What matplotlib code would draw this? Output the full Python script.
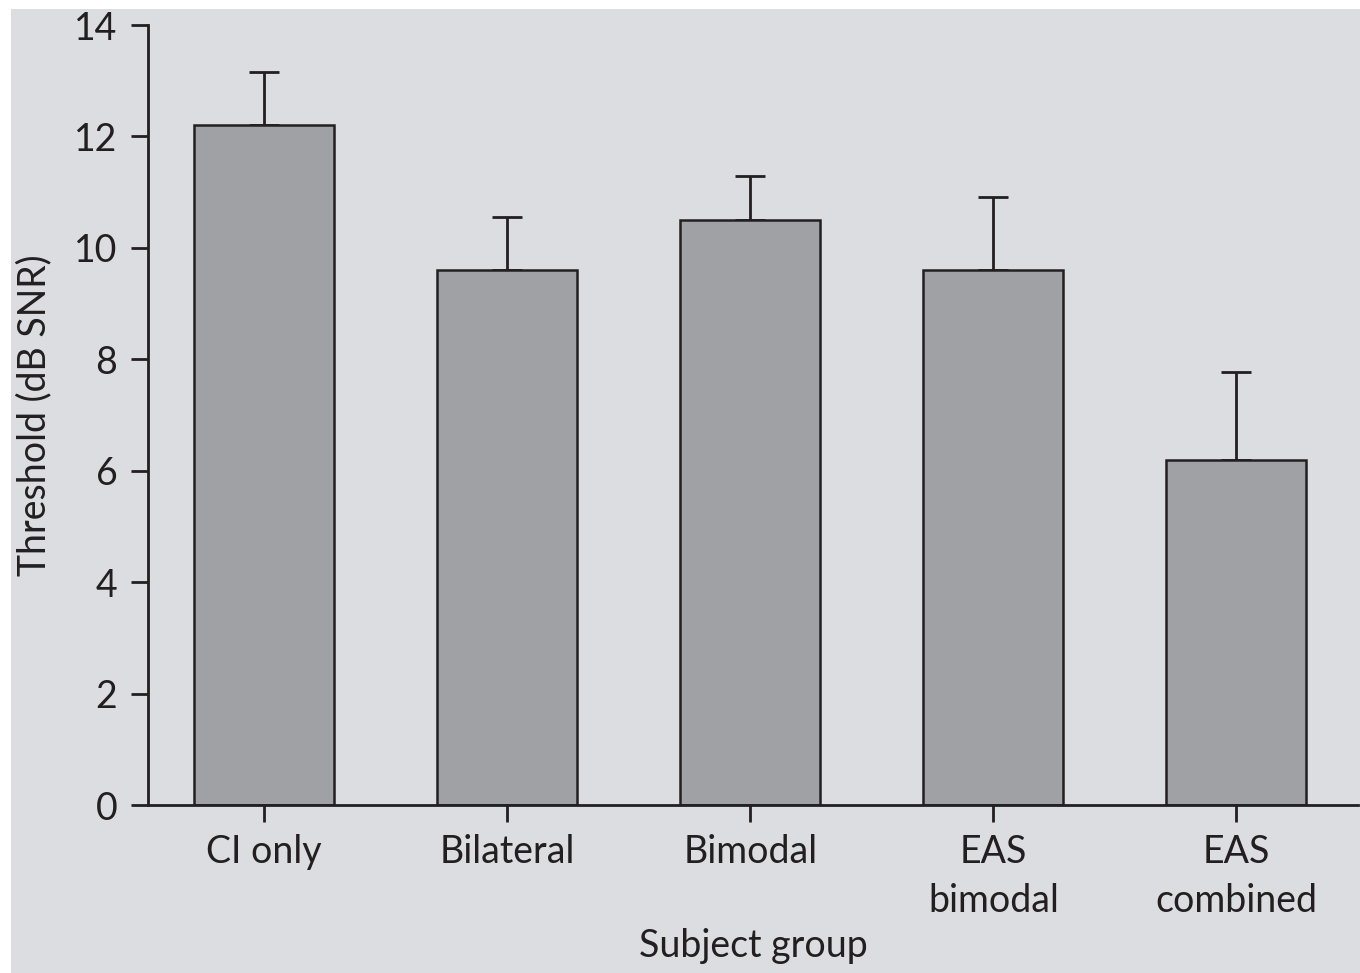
import numpy as np
import matplotlib
matplotlib.use("Agg")
import matplotlib.pyplot as plt
from matplotlib.patches import Rectangle

groups = ["CI only", "Bilateral", "Bimodal", "EAS\nbimodal", "EAS\ncombined"]
threshold = [12.2, 9.6, 10.5, 9.6, 6.2]
sem = [0.96, 0.96, 0.79, 1.32, 1.58]
yticks = [0, 2, 4, 6, 8, 10, 12, 14]

BG = "#dcdde0"
BAR = "#a0a1a5"
INK = "#231f20"

plt.rcParams["font.family"] = ["Lato", "DejaVu Sans"]

fig = plt.figure(figsize=(13.6, 9.73), dpi=100, facecolor="white")
# grey panel behind the plot, with a thin white strip left and top
fig.patches.append(Rectangle((11 / 1360, 0), 1 - 11 / 1360, 1 - 9 / 973,
                             transform=fig.transFigure, fc=BG, ec="none", zorder=-1))

ax = fig.add_axes([148 / 1360, 1 - 805 / 973, (1358 - 148) / 1360, (805 - 25) / 973])
ax.set_facecolor("none")

x = np.arange(len(groups))
ax.bar(x, threshold, width=0.576, color=BAR, edgecolor=INK, linewidth=1.8, zorder=2)
ax.errorbar(x, threshold, yerr=[np.zeros(len(sem)), sem], fmt="none",
            ecolor=INK, elinewidth=2.0, capsize=11, capthick=2.0, zorder=1)

ax.set_xlim(-0.477, 4.50)
ax.set_ylim(0, 14)
ax.set_yticks(yticks)
ax.set_xticks(x)
ax.set_xticklabels(groups, fontsize=27, color=INK, linespacing=1.45)
ax.tick_params(axis="y", labelsize=27, labelcolor=INK, length=12, width=2, color=INK, pad=10)
ax.tick_params(axis="x", length=12, width=2, color=INK, pad=9)

for s in ["top", "right"]:
    ax.spines[s].set_visible(False)
for s in ["left", "bottom"]:
    ax.spines[s].set_linewidth(2)
    ax.spines[s].set_color(INK)

ax.set_ylabel("Threshold (dB SNR)", fontsize=27, color=INK, labelpad=16)
ax.set_xlabel("Subject group", fontsize=27, color=INK, labelpad=6)

fig.savefig("out.png", dpi=100, facecolor=fig.get_facecolor())
